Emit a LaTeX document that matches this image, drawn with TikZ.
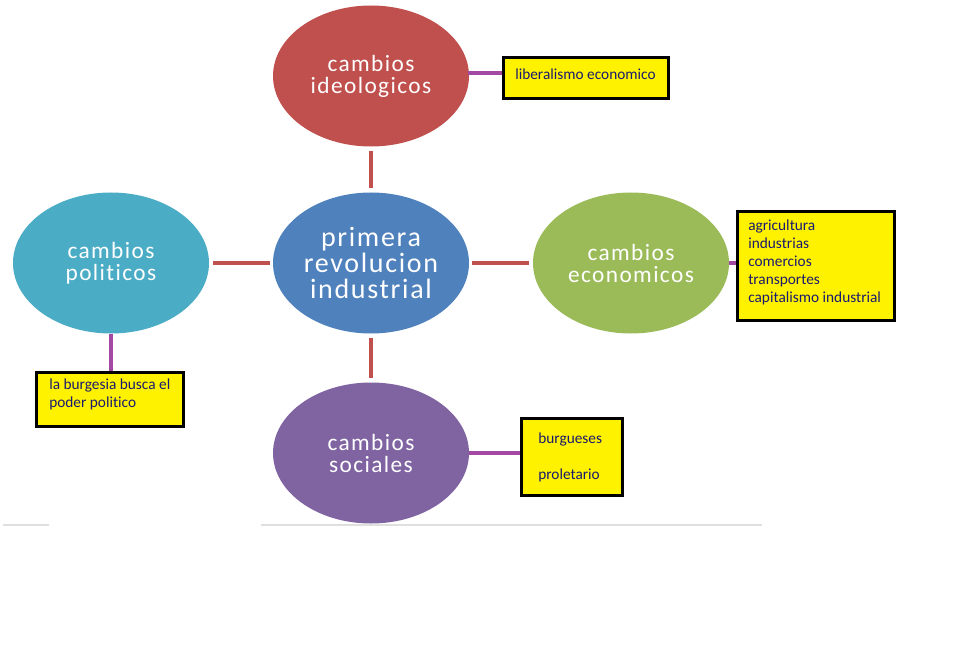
\documentclass[tikz,border=0pt]{standalone}
\usepackage{fontspec}
\setmainfont[Ligatures=NoCommon]{Carlito}
\newfontfamily\bubblefont[LetterSpace=6,Ligatures=NoCommon]{Carlito}
\usetikzlibrary{shapes.geometric}
\definecolor{cred}{HTML}{C0504D}
\definecolor{cblue}{HTML}{4F81BD}
\definecolor{caqua}{HTML}{4BACC6}
\definecolor{cgreen}{HTML}{9BBB59}
\definecolor{cpurple}{HTML}{8064A2}
\definecolor{clink}{HTML}{A349A4}
\definecolor{cyel}{HTML}{FFF200}
\definecolor{ctxt}{HTML}{1A1A70}
\tikzset{
  bubble/.style={ellipse, minimum width=196*0.75pt, minimum height=141*0.75pt, inner sep=0pt,
    text=white, align=center, font=\bubblefont\fontsize{17.5}{16.5}\selectfont},
  note/.style={draw=black, line width=2.2pt, fill=cyel, inner sep=0pt, anchor=north west},
  notetext/.style={text=ctxt, font=\fontsize{11.5}{13.5}\selectfont, align=left, anchor=west, inner sep=0pt},
  redlink/.style={draw=cred, line width=2.4pt},
  purplink/.style={draw=clink, line width=3.2pt},
}
\begin{document}
\begin{tikzpicture}[x=0.75pt,y=-0.75pt]
\useasboundingbox (0,0) rectangle (973,645);
% gray rules
\draw[gray!25, line width=1pt] (3,525) -- (49,525);
\draw[gray!25, line width=1pt] (261,525) -- (762,525);
% ellipses
\node[bubble, fill=cblue, font=\bubblefont\fontsize{21}{19.5}\selectfont] (c) at (371,263) {primera\\revolucion\\industrial};
\node[bubble, fill=cred] (t) at (371,76) {cambios\\ideologicos};
\node[bubble, fill=caqua] (l) at (111,263) {cambios\\politicos};
\node[bubble, fill=cgreen] (r) at (631,263) {cambios\\economicos};
\node[bubble, fill=cpurple] (b) at (371,453) {cambios\\sociales};
% red connectors
\draw[redlink, shorten <=3pt, shorten >=3pt] (t.south) -- (c.north);
\draw[redlink, shorten <=3pt, shorten >=2pt] (l.east) -- (c.west);
\draw[redlink, shorten <=2pt, shorten >=3pt] (c.east) -- (r.west);
\draw[redlink, shorten <=3pt, shorten >=3pt] (c.south) -- (b.north);
% yellow notes
\node[note, minimum width=165*0.75pt, minimum height=41*0.75pt] (n1) at (502,56) {};
\node[notetext] at (515,74) {liberalismo economico};
\node[note, minimum width=157*0.75pt, minimum height=109*0.75pt] (n2) at (736,210) {};
\node[notetext, anchor=north west] at (748,220) {agricultura\\industrias\\comercios\\transportes\\capitalismo industrial};
\node[note, minimum width=147*0.75pt, minimum height=54*0.75pt] (n3) at (35,371) {};
\node[notetext, anchor=north west] at (49,379) {la burgesia busca el\\poder politico};
\node[note, minimum width=101*0.75pt, minimum height=77*0.75pt] (n4) at (520,417) {};
\node[notetext] at (538,439) {burgueses};
\node[notetext] at (538,475) {proletario};
% purple connectors
\coordinate (p1) at (n1.west |- 0,73);
\draw[purplink] (t.east |- 0,73) ++(-1,0) -- (p1);
\draw[purplink] (r.east) -- (n2.west |- r.east);
\draw[purplink] (l.south) -- (n3.north -| l.south);
\draw[purplink] (b.east) -- (n4.west |- b.east);
\end{tikzpicture}
\end{document}
